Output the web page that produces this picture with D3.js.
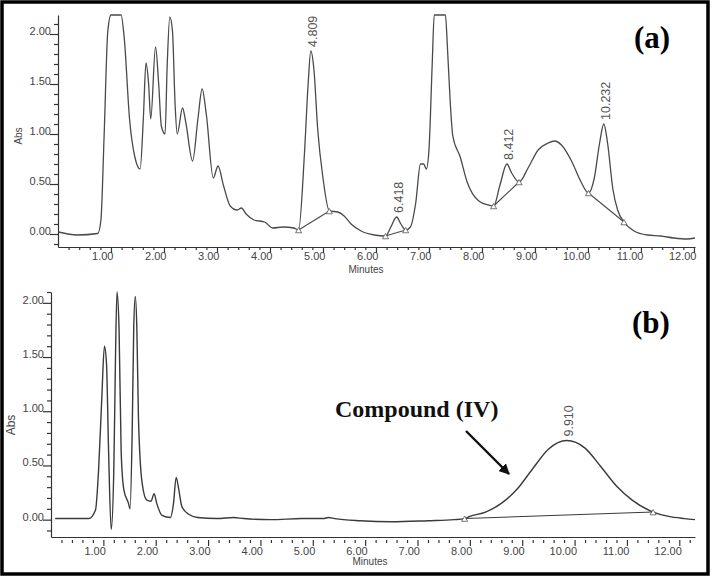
<!DOCTYPE html>
<html>
<head>
<meta charset="utf-8">
<script src="https://cdn.jsdelivr.net/npm/d3@7"></script>
<style>
  body { margin: 0; background: #fff; }
</style>
</head>
<body>
<script>
// ---- chromatogramme (a) ----
const timeA = [0.01, 0.36, 0.75, 0.81, 0.87, 0.94, 1.00, 1.19, 1.25, 1.35, 1.45, 1.55, 1.61, 1.66, 1.71, 1.75,
  1.84, 1.90, 1.95, 2.02, 2.06, 2.11, 2.16, 2.21, 2.25, 2.35, 2.41, 2.54, 2.64, 2.72, 2.80, 2.93, 3.02, 3.12,
  3.25, 3.38, 3.46, 3.55, 3.70, 3.90, 4.05, 4.25, 4.45, 4.54, 4.65, 4.72, 4.77, 4.83, 4.90, 5.00, 5.12, 5.28,
  5.40, 5.53, 5.72, 5.97, 6.18, 6.28, 6.39, 6.47, 6.56, 6.65, 6.75, 6.84, 6.90, 6.95, 7.00, 7.06, 7.10, 7.31,
  7.35, 7.40, 7.45, 7.59, 7.72, 7.94, 8.12, 8.22, 8.34, 8.47, 8.56, 8.70, 8.87, 9.06, 9.25, 9.37, 9.50, 9.69,
  9.87, 10.01, 10.12, 10.22, 10.30, 10.37, 10.47, 10.56, 10.68, 10.87, 11.12, 11.37, 11.62, 11.87, 12.02];
const absA = [0.02, -0.01, 0.005, 0.14, 0.98, 2.03, 2.19, 2.19, 1.96, 1.15, 0.77, 0.65, 1.15, 1.71, 1.50, 1.15,
  1.87, 1.50, 1.08, 1.00, 1.68, 2.17, 2.03, 1.29, 1.00, 1.26, 1.12, 0.73, 1.15, 1.45, 1.19, 0.56, 0.68, 0.49,
  0.28, 0.24, 0.26, 0.20, 0.14, 0.12, 0.06, 0.07, 0.06, 0.04, 0.80, 1.50, 1.83, 1.64, 1.05, 0.56, 0.23, 0.22,
  0.18, 0.10, 0.03, -0.01, -0.02, 0.07, 0.17, 0.10, 0.04, 0.07, 0.31, 0.70, 0.70, 0.65, 0.84, 1.68, 2.19, 2.19,
  1.85, 1.33, 0.98, 0.77, 0.52, 0.33, 0.29, 0.28, 0.49, 0.70, 0.61, 0.52, 0.66, 0.84, 0.91, 0.93, 0.89, 0.73,
  0.52, 0.41, 0.56, 0.91, 1.10, 0.91, 0.45, 0.24, 0.12, 0.03, -0.01, -0.02, -0.04, -0.05, -0.04];

const peakNameA = ["4.809", "6.418", "8.412", "10.232"];
const peakTimeA = [4.77, 6.39, 8.47, 10.30];
const peakAbsA = [1.83, 0.17, 0.70, 1.10];

// lignes de base d'intégration (début / fin)
const baseStartTimeA = [4.54, 6.18, 8.22, 10.01];
const baseStartAbsA = [0.04, -0.02, 0.28, 0.41];
const baseEndTimeA = [5.12, 6.56, 8.70, 10.68];
const baseEndAbsA = [0.23, 0.04, 0.52, 0.12];

// ---- chromatogramme (b) ----
const timeB = [0.08, 0.72, 0.85, 0.91, 0.97, 1.02, 1.06, 1.10, 1.15, 1.20, 1.23, 1.26, 1.30, 1.34, 1.39, 1.48,
  1.51, 1.55, 1.58, 1.61, 1.64, 1.67, 1.74, 1.83, 1.91, 1.97, 2.02, 2.12, 2.28, 2.34, 2.39, 2.44, 2.50, 2.63,
  2.80, 3.17, 3.49, 3.68, 4.20, 4.80, 5.20, 5.30, 5.42, 5.90, 6.50, 7.20, 7.70, 7.90, 8.00, 8.30, 8.60, 8.90,
  9.20, 9.50, 9.85, 10.20, 10.50, 10.80, 11.10, 11.50, 11.80, 12.10, 12.30];
const absB = [0.01, 0.01, 0.09, 0.47, 1.12, 1.60, 1.44, 0.63, -0.09, 0.47, 1.44, 2.10, 1.76, 0.63, 0.28, 0.15,
  0.10, 0.79, 1.76, 2.06, 1.76, 0.95, 0.34, 0.18, 0.17, 0.24, 0.15, 0.04, 0.02, 0.15, 0.39, 0.28, 0.12, 0.05,
  0.02, 0.01, 0.02, 0.01, 0.00, 0.01, 0.01, 0.02, 0.01, -0.01, -0.02, -0.01, 0.00, 0.01, 0.03, 0.07, 0.15, 0.28,
  0.47, 0.65, 0.73, 0.66, 0.49, 0.31, 0.18, 0.07, 0.03, 0.01, 0.00];

const peakNameB = ["9.910"];
const peakTimeB = [9.85];
const peakAbsB = [0.73];

const baseStartTimeB = [7.90];
const baseStartAbsB = [0.01];
const baseEndTimeB = [11.50];
const baseEndAbsB = [0.07];

// graduations
const xTickLabels = d3.range(1, 13);
const yTickLabels = [0, 0.5, 1, 1.5, 2];

const width = 712, height = 578;
const gris = "#4a4a4a";
const police = "Arial, 'Liberation Sans', sans-serif";

const svg = d3.select("body").append("svg")
  .attr("width", width)
  .attr("height", height);

svg.append("rect")
  .attr("x", 2).attr("y", 2)
  .attr("width", 706).attr("height", 572)
  .attr("fill", "#fff")
  .attr("stroke", "#000")
  .attr("stroke-width", 3.5);

function drawPanel(p) {
  const x = d3.scaleLinear().domain(p.xDomain).range(p.xRange);
  const y = d3.scaleLinear().domain(p.yDomain).range(p.yRange);
  const g = svg.append("g");
  const bas = p.yRange[0];

  // axe X : petites graduations tous les 0.2
  const minorX = d3.range(1, Math.floor(p.xDomain[1] * 5) + 1).filter(i => i % 5 !== 0).map(i => i / 5);
  const axMinor = g.append("g")
    .attr("transform", "translate(0," + bas + ")")
    .call(d3.axisBottom(x).tickValues(minorX).tickSize(3).tickFormat(""));
  axMinor.select(".domain").remove();
  axMinor.selectAll(".tick line").attr("y1", p.tickGap).attr("y2", p.tickGap + 3);

  const axX = g.append("g")
    .attr("transform", "translate(0," + bas + ")")
    .call(d3.axisBottom(x).tickValues(xTickLabels).tickSize(6).tickSizeOuter(0).tickFormat(d3.format(".2f")));
  axX.selectAll(".tick line").attr("y1", p.tickGap).attr("y2", p.tickGap + 6);
  axX.selectAll(".tick text")
    .attr("text-anchor", "end")
    .attr("x", 2)
    .attr("y", p.labelY)
    .attr("dy", 0);

  // axe Y
  const minorY = d3.range(-1, 22).filter(i => i % 5 !== 0).map(i => i / 10)
    .filter(v => v >= p.yDomain[0] && v <= p.yDomain[1]);
  const axYMinor = g.append("g")
    .attr("transform", "translate(" + p.xRange[0] + ",0)")
    .call(d3.axisLeft(y).tickValues(minorY).tickSize(4).tickFormat(""));
  axYMinor.select(".domain").remove();

  const axY = g.append("g")
    .attr("transform", "translate(" + p.xRange[0] + ",0)")
    .call(d3.axisLeft(y).tickValues(yTickLabels).tickSize(8).tickSizeOuter(0).tickFormat(d3.format(".2f")));
  axY.selectAll(".tick text")
    .attr("x", -7)
    .attr("dy", 0)
    .attr("y", 0.5);

  g.selectAll(".tick line, .domain").attr("stroke", "#333").attr("stroke-width", 1.2);
  g.selectAll(".tick text")
    .attr("fill", "#444")
    .style("font-family", police)
    .style("font-size", "11px");

  g.append("text")
    .text("Minutes")
    .attr("x", p.minutesX).attr("y", p.minutesY)
    .attr("text-anchor", "middle")
    .attr("fill", "#444")
    .style("font-family", police)
    .style("font-size", "10px");

  g.append("text")
    .text("Abs")
    .attr("transform", "translate(" + p.absX + "," + p.absY + ") rotate(-90)")
    .attr("text-anchor", "middle")
    .attr("fill", "#444")
    .style("font-family", police)
    .style("font-size", p.absSize + "px");

  // tracé
  const line = d3.line()
    .x(i => x(p.time[i]))
    .y(i => y(p.abs[i]))
    .curve(d3.curveMonotoneX);

  g.append("path")
    .attr("d", line(d3.range(p.time.length)))
    .attr("fill", "none")
    .attr("stroke", p.color)
    .attr("stroke-width", p.lineWidth);

  // lignes de base + triangles
  const tri = d3.symbol().type(d3.symbolTriangle).size(16);
  p.baseStartTime.forEach((t0, i) => {
    const x0 = x(t0), y0 = y(p.baseStartAbs[i]);
    const x1 = x(p.baseEndTime[i]), y1 = y(p.baseEndAbs[i]);
    g.append("line")
      .attr("x1", x0).attr("y1", y0)
      .attr("x2", x1).attr("y2", y1)
      .attr("stroke", p.color)
      .attr("stroke-width", 1.1);
    [[x0, y0], [x1, y1]].forEach(pt => {
      g.append("path")
        .attr("d", tri())
        .attr("transform", "translate(" + pt[0] + "," + (pt[1] + 1) + ")")
        .attr("fill", "#fff")
        .attr("stroke", "#555")
        .attr("stroke-width", 0.8);
    });
  });

  // étiquettes des pics
  p.peakName.forEach((nom, i) => {
    g.append("text")
      .text(nom)
      .attr("transform", "translate(" + (x(p.peakTime[i]) + 6) + "," + (y(p.peakAbs[i]) - 4) + ") rotate(-90)")
      .attr("text-anchor", "start")
      .attr("fill", "#555")
      .style("font-family", police)
      .style("font-size", "12.5px");
  });

  g.append("text")
    .text(p.title)
    .attr("x", p.titleX).attr("y", p.titleY)
    .attr("text-anchor", "middle")
    .attr("fill", "#000")
    .style("font-family", "'Liberation Serif', 'Times New Roman', serif")
    .style("font-weight", "bold")
    .style("font-size", "31px");

  return { x: x, y: y };
}

drawPanel({
  time: timeA, abs: absA,
  peakName: peakNameA, peakTime: peakTimeA, peakAbs: peakAbsA,
  baseStartTime: baseStartTimeA, baseStartAbs: baseStartAbsA,
  baseEndTime: baseEndTimeA, baseEndAbs: baseEndAbsA,
  xDomain: [0, 12.02], xRange: [58, 695],
  yDomain: [-0.13, 2.19], yRange: [247, 15],
  tickGap: 0, labelY: 13,
  minutesX: 366, minutesY: 273,
  absX: 22, absY: 136, absSize: 10,
  color: gris, lineWidth: 1.3,
  title: "(a)", titleX: 652, titleY: 48
});

drawPanel({
  time: timeB, abs: absB,
  peakName: peakNameB, peakTime: peakTimeB, peakAbs: peakAbsB,
  baseStartTime: baseStartTimeB, baseStartAbs: baseStartAbsB,
  baseEndTime: baseEndTimeB, baseEndAbs: baseEndAbsB,
  xDomain: [0, 12.3], xRange: [51, 695],
  yDomain: [-0.16, 2.1], yRange: [537, 292],
  tickGap: 3, labelY: 18,
  minutesX: 370, minutesY: 565,
  absX: 15, absY: 425, absSize: 12,
  color: "#3a3a3a", lineWidth: 1.4,
  title: "(b)", titleX: 651, titleY: 333
});

// annotation du composé
svg.append("defs").append("marker")
  .attr("id", "fleche")
  .attr("viewBox", "0 0 10 10")
  .attr("refX", 9).attr("refY", 5)
  .attr("markerWidth", 4.5).attr("markerHeight", 4.5)
  .attr("orient", "auto")
  .append("path")
  .attr("d", "M0,0 L10,5 L0,10 z")
  .attr("fill", "#111");

svg.append("line")
  .attr("x1", 466).attr("y1", 431)
  .attr("x2", 509).attr("y2", 474)
  .attr("stroke", "#111")
  .attr("stroke-width", 2.4)
  .attr("marker-end", "url(#fleche)");

svg.append("text")
  .text("Compound (IV)")
  .attr("x", 335).attr("y", 417)
  .attr("fill", "#111")
  .style("font-family", "'Liberation Serif', 'Times New Roman', serif")
  .style("font-weight", "bold")
  .style("font-size", "24px");
</script>
</body>
</html>
